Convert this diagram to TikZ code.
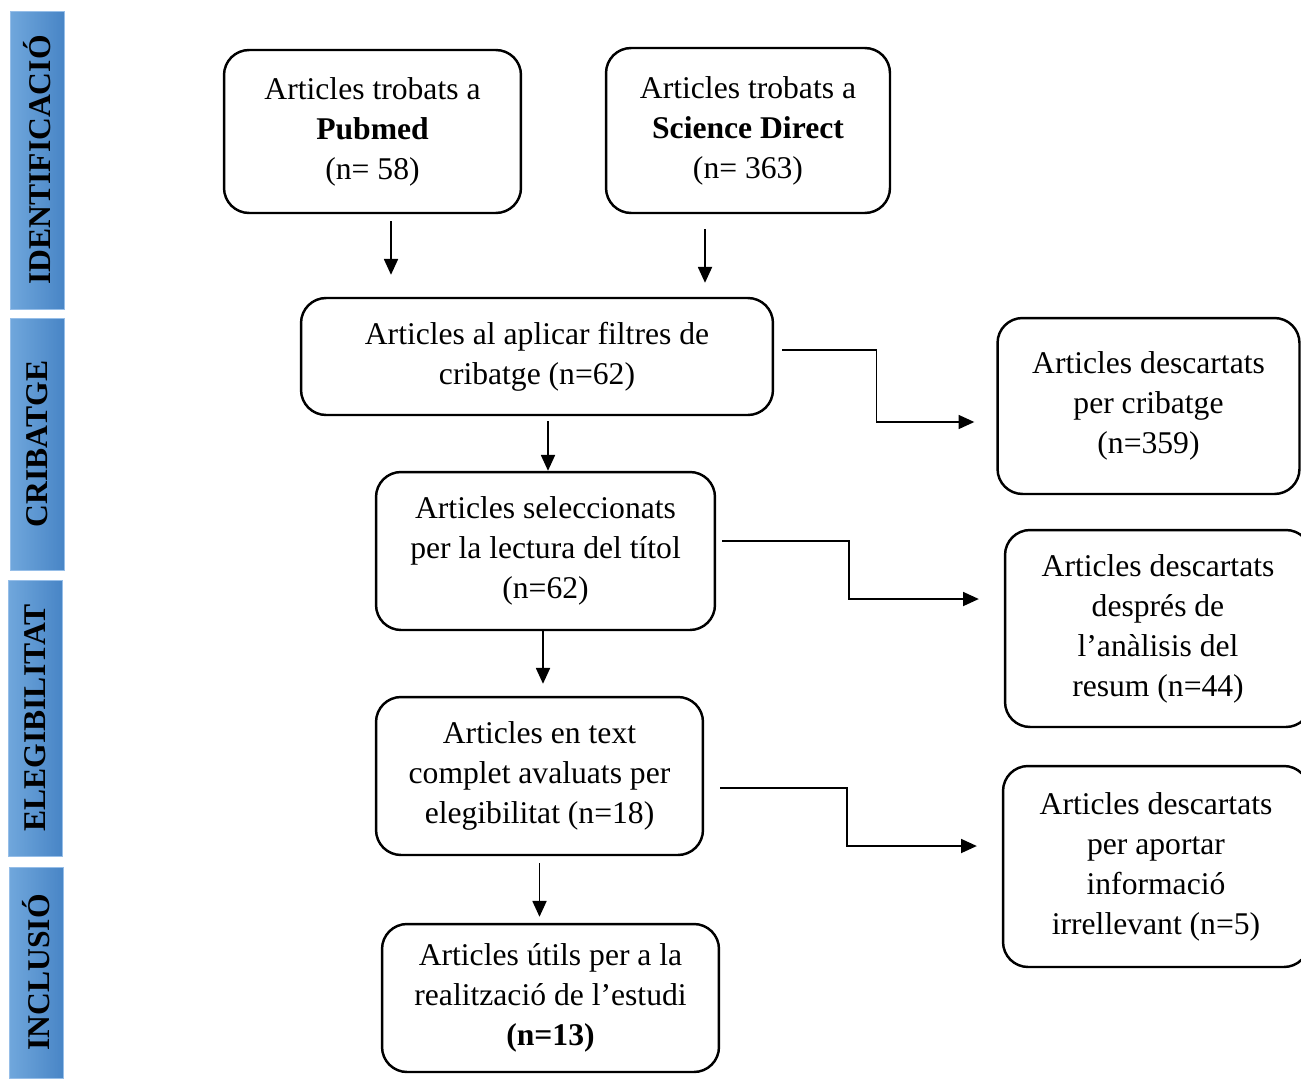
\documentclass[tikz,border=0pt]{standalone}
\usepackage{fontspec}
\setmainfont{Liberation Serif}
\usetikzlibrary{arrows.meta}

\definecolor{barleft}{RGB}{112,167,220}
\definecolor{barright}{RGB}{72,133,198}
\definecolor{baredge}{RGB}{150,190,232}

\tikzset{
	box/.style={draw, line width=1.4pt, rounded corners=0.5cm, align=center,
		font=\fontsize{18}{22.76}\selectfont, inner sep=2pt},
	arr/.style={line width=0.9pt, -{Triangle[length=9pt,width=8pt]}},
	bar/.style={draw=baredge, line width=0.5pt, left color=barleft, right color=barright,
		minimum width=1.08cm, inner sep=0pt, font=\fontsize{18}{20}\selectfont\bfseries},
}

\begin{document}
\begin{tikzpicture}[x=0.02cm, y=-0.02cm]
	\useasboundingbox (0,0) rectangle (1301,1078);

	%side bars
	\node[bar, minimum height=5.96cm] (idbar)   at (37,160)    {\rotatebox{90}{IDENTIFICACIÓ}};
	\node[bar, minimum height=5.04cm] (cribbar) at (37,444)    {\rotatebox{90}{CRIBATGE}};
	\node[bar, minimum height=5.52cm] (elegbar) at (35,718)    {\rotatebox{90}{ELEGIBILITAT}};
	\node[bar, minimum height=4.22cm] (inclbar) at (36.5,972.5) {\rotatebox{90}{INCLUSIÓ}};

	%main column
	\node[box, minimum width=5.94cm, minimum height=3.26cm] (pubmed) at (372.5,131.5)
		{Articles trobats a\\ \textbf{Pubmed}\\ (n= 58)};
	\node[box, minimum width=5.68cm, minimum height=3.3cm] (scidir) at (748,130.5)
		{Articles trobats a\\ \textbf{Science Direct}\\ (n= 363)};
	\node[box, minimum width=9.44cm, minimum height=2.34cm] (filtres) at (537,356.5)
		{Articles al aplicar filtres de\\ cribatge (n=62)};
	\node[box, minimum width=6.78cm, minimum height=3.16cm] (titol) at (545.5,551)
		{Articles seleccionats\\ per la lectura del títol\\ (n=62)};
	\node[box, minimum width=6.54cm, minimum height=3.16cm] (complet) at (539.5,776)
		{Articles en text\\ complet avaluats per\\ elegibilitat (n=18)};
	\node[box, minimum width=6.74cm, minimum height=2.96cm] (utils) at (550.5,998)
		{Articles útils per a la\\ realització de l’estudi\\ \textbf{(n=13)}};

	%discarded
	\node[box, minimum width=6.04cm, minimum height=3.52cm] (desccrib) at (1148.5,406)
		{Articles descartats\\ per cribatge\\ (n=359)};
	\node[box, minimum width=6.12cm, minimum height=3.94cm] (descresum) at (1158,628.5)
		{Articles descartats\\ després de\\ l’anàlisis del\\ resum (n=44)};
	\node[box, minimum width=6.12cm, minimum height=4.02cm] (descinfo) at (1156,866.5)
		{Articles descartats\\ per aportar\\ informació\\ irrellevant (n=5)};

	%arrows down
	\draw[arr, shorten <=0.14cm, shorten >=0.44cm] ([xshift=0.37cm]pubmed.south) -- ([xshift=0.37cm]pubmed.south |- filtres.north);
	\draw[arr, shorten <=0.3cm, shorten >=0.28cm] ([xshift=-0.86cm]scidir.south) -- ([xshift=-0.86cm]scidir.south |- filtres.north);
	\draw[arr, shorten <=0.1cm] ([xshift=0.22cm]filtres.south) -- ([xshift=0.22cm]filtres.south |- titol.north);
	\draw[arr, shorten >=0.24cm] ([xshift=-0.05cm]titol.south) -- ([xshift=-0.05cm]titol.south |- complet.north);
	\draw[arr, shorten <=0.14cm, shorten >=0.12cm] (complet.south) -- (complet.south |- utils.north);

	%arrows right
	\draw[arr] ([xshift=0.16cm,yshift=0.13cm]filtres.east) -| ([xshift=-2.4cm,yshift=-0.32cm]desccrib.west)
		-- ([xshift=-0.44cm,yshift=-0.32cm]desccrib.west);
	\draw[arr] ([xshift=0.12cm,yshift=0.2cm]titol.east) -| ([xshift=-3.1cm,yshift=0.59cm]descresum.west)
		-- ([xshift=-0.5cm,yshift=0.59cm]descresum.west);
	\draw[arr] ([xshift=0.32cm,yshift=-0.24cm]complet.east) -| ([xshift=-3.1cm,yshift=0.41cm]descinfo.west)
		-- ([xshift=-0.5cm,yshift=0.41cm]descinfo.west);
\end{tikzpicture}
\end{document}
